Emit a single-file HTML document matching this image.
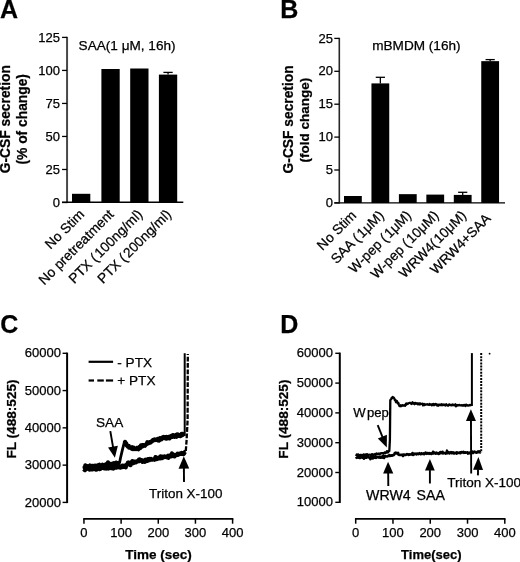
<!DOCTYPE html>
<html><head><meta charset="utf-8"><style>
html,body{margin:0;padding:0;background:#fff;}
svg{display:block;font-family:"Liberation Sans", sans-serif;}
text{stroke:#000;stroke-width:0.25px;}
</style></head><body>
<svg width="520" height="562" viewBox="0 0 520 562">
<defs><filter id="bl" x="0" y="0" width="1" height="1"><feGaussianBlur stdDeviation="0.35"/></filter></defs>
<rect width="520" height="562" fill="#fff"/>
<g filter="url(#bl)">
<rect width="520" height="562" fill="#fff"/>
<text x="0.0" y="17.6" font-size="25" font-weight="bold" text-anchor="start" >A</text>
<line x1="67.05" y1="36.8" x2="67.05" y2="203.1" stroke="#000" stroke-width="2.0" stroke-opacity="0.72"/>
<line x1="62.05" y1="202.5" x2="67.05" y2="202.5" stroke="#000" stroke-width="1.3" />
<text x="60" y="206.6" font-size="13" font-weight="normal" text-anchor="end" >0</text>
<line x1="62.05" y1="169.48000000000002" x2="67.05" y2="169.48000000000002" stroke="#000" stroke-width="1.3" />
<text x="60" y="173.58" font-size="13" font-weight="normal" text-anchor="end" >25</text>
<line x1="62.05" y1="136.46" x2="67.05" y2="136.46" stroke="#000" stroke-width="1.3" />
<text x="60" y="140.56" font-size="13" font-weight="normal" text-anchor="end" >50</text>
<line x1="62.05" y1="103.44000000000001" x2="67.05" y2="103.44000000000001" stroke="#000" stroke-width="1.3" />
<text x="60" y="107.54" font-size="13" font-weight="normal" text-anchor="end" >75</text>
<line x1="62.05" y1="70.42000000000002" x2="67.05" y2="70.42000000000002" stroke="#000" stroke-width="1.3" />
<text x="60" y="74.52000000000001" font-size="13" font-weight="normal" text-anchor="end" >100</text>
<line x1="62.05" y1="37.400000000000006" x2="67.05" y2="37.400000000000006" stroke="#000" stroke-width="1.3" />
<text x="60" y="41.50000000000001" font-size="13" font-weight="normal" text-anchor="end" >125</text>
<line x1="62" y1="202.3" x2="183.3" y2="202.3" stroke="#000" stroke-width="1.4" />
<rect x="72" y="193.8" width="18.3" height="8.5" fill="#000"/>
<rect x="101.4" y="69.0" width="18.3" height="133.3" fill="#000"/>
<rect x="130.2" y="68.5" width="18.3" height="133.8" fill="#000"/>
<rect x="158.9" y="74.6" width="18.3" height="127.70000000000002" fill="#000"/>
<line x1="168.05" y1="72.4" x2="168.05" y2="74.6" stroke="#000" stroke-width="1.3" />
<line x1="163.4" y1="72.4" x2="172.70000000000002" y2="72.4" stroke="#000" stroke-width="1.3" />
<text x="78.6" y="49.5" font-size="13.6" font-weight="normal" text-anchor="start" >SAA(1 μM, 16h)</text>
<text transform="translate(85.15,215.2) rotate(-45)" font-size="13.75" font-weight="normal" text-anchor="end" >No Stim</text>
<text transform="translate(114.55000000000001,215.2) rotate(-45)" font-size="13.75" font-weight="normal" text-anchor="end" >No pretreatment</text>
<text transform="translate(143.35,215.2) rotate(-45)" font-size="13.75" font-weight="normal" text-anchor="end" >PTX (<tspan dx="1.5">100ng/ml)</tspan></text>
<text transform="translate(172.05,215.2) rotate(-45)" font-size="13.75" font-weight="normal" text-anchor="end" >PTX (<tspan dx="1.5">200ng/ml)</tspan></text>
<text transform="translate(10.1,119.2) rotate(-90)" font-size="13.8" font-weight="bold" text-anchor="middle" >G-CSF secretion</text>
<text transform="translate(26.7,119.3) rotate(-90)" font-size="13.8" font-weight="bold" text-anchor="middle" >(% of change)</text>
<text x="280.3" y="17.6" font-size="25" font-weight="bold" text-anchor="start" >B</text>
<line x1="339.3" y1="37.8" x2="339.3" y2="203.5" stroke="#000" stroke-width="1.6" stroke-opacity="0.85"/>
<line x1="334.3" y1="202.9" x2="339.3" y2="202.9" stroke="#000" stroke-width="1.3" />
<text x="333" y="207.0" font-size="13" font-weight="normal" text-anchor="end" >0</text>
<line x1="334.3" y1="170.0" x2="339.3" y2="170.0" stroke="#000" stroke-width="1.3" />
<text x="333" y="174.1" font-size="13" font-weight="normal" text-anchor="end" >5</text>
<line x1="334.3" y1="137.10000000000002" x2="339.3" y2="137.10000000000002" stroke="#000" stroke-width="1.3" />
<text x="333" y="141.20000000000002" font-size="13" font-weight="normal" text-anchor="end" >10</text>
<line x1="334.3" y1="104.2" x2="339.3" y2="104.2" stroke="#000" stroke-width="1.3" />
<text x="333" y="108.3" font-size="13" font-weight="normal" text-anchor="end" >15</text>
<line x1="334.3" y1="71.30000000000001" x2="339.3" y2="71.30000000000001" stroke="#000" stroke-width="1.3" />
<text x="333" y="75.4" font-size="13" font-weight="normal" text-anchor="end" >20</text>
<line x1="334.3" y1="38.400000000000006" x2="339.3" y2="38.400000000000006" stroke="#000" stroke-width="1.3" />
<text x="333" y="42.50000000000001" font-size="13" font-weight="normal" text-anchor="end" >25</text>
<line x1="334.3" y1="202.9" x2="505" y2="202.9" stroke="#000" stroke-width="1.4" />
<rect x="344" y="196.0" width="17.8" height="6.900000000000006" fill="#000"/>
<rect x="371.45" y="83.4" width="17.8" height="119.5" fill="#000"/>
<line x1="380.34999999999997" y1="77.3" x2="380.34999999999997" y2="83.4" stroke="#000" stroke-width="1.3" />
<line x1="375.75" y1="77.3" x2="384.95" y2="77.3" stroke="#000" stroke-width="1.3" />
<rect x="398.9" y="194.15" width="17.8" height="8.75" fill="#000"/>
<rect x="426.35" y="194.6" width="17.8" height="8.300000000000011" fill="#000"/>
<rect x="453.8" y="194.9" width="17.8" height="8.0" fill="#000"/>
<line x1="462.7" y1="192.3" x2="462.7" y2="194.9" stroke="#000" stroke-width="1.3" />
<line x1="458.1" y1="192.3" x2="467.3" y2="192.3" stroke="#000" stroke-width="1.3" />
<rect x="481.25" y="61.15" width="17.8" height="141.75" fill="#000"/>
<line x1="490.15" y1="59.6" x2="490.15" y2="61.15" stroke="#000" stroke-width="1.3" />
<line x1="485.55" y1="59.6" x2="494.75" y2="59.6" stroke="#000" stroke-width="1.3" />
<text x="372.2" y="49.9" font-size="13.6" font-weight="normal" text-anchor="start" >mBMDM (16h)</text>
<text transform="translate(357.2,216.3) rotate(-45)" font-size="13.75" font-weight="normal" text-anchor="end" >No Stim</text>
<text transform="translate(384.65,216.3) rotate(-45)" font-size="13.75" font-weight="normal" text-anchor="end" >SAA (<tspan dx="1.5">1μM)</tspan></text>
<text transform="translate(412.09999999999997,216.3) rotate(-45)" font-size="13.75" font-weight="normal" text-anchor="end" >W-pep (<tspan dx="1.5">1μM)</tspan></text>
<text transform="translate(439.55,216.3) rotate(-45)" font-size="13.75" font-weight="normal" text-anchor="end" >W-pep (<tspan dx="1.5">10μM)</tspan></text>
<text transform="translate(467.0,216.3) rotate(-45)" font-size="13.75" font-weight="normal" text-anchor="end" >WRW4(<tspan dx="1.2">10μM)</tspan></text>
<text transform="translate(491.45,219.3) rotate(-45)" font-size="13.75" font-weight="normal" text-anchor="end" >WRW4+SAA</text>
<text transform="translate(293.0,119.4) rotate(-90)" font-size="13.8" font-weight="bold" text-anchor="middle" >G-CSF secretion</text>
<text transform="translate(308.9,120.0) rotate(-90)" font-size="13.5" font-weight="bold" text-anchor="middle" >(fold change)</text>
<text x="0.3" y="332.6" font-size="25" font-weight="bold" text-anchor="start" >C</text>
<line x1="67.1" y1="352.6" x2="67.1" y2="503.09999999999997" stroke="#000" stroke-width="2.0" />
<line x1="62.599999999999994" y1="502.4" x2="67.1" y2="502.4" stroke="#000" stroke-width="1.4" />
<text x="61" y="506.5" font-size="13" font-weight="normal" text-anchor="end" >20000</text>
<line x1="62.599999999999994" y1="465.125" x2="67.1" y2="465.125" stroke="#000" stroke-width="1.4" />
<text x="61" y="469.225" font-size="13" font-weight="normal" text-anchor="end" >30000</text>
<line x1="62.599999999999994" y1="427.85" x2="67.1" y2="427.85" stroke="#000" stroke-width="1.4" />
<text x="61" y="431.95000000000005" font-size="13" font-weight="normal" text-anchor="end" >40000</text>
<line x1="62.599999999999994" y1="390.575" x2="67.1" y2="390.575" stroke="#000" stroke-width="1.4" />
<text x="61" y="394.675" font-size="13" font-weight="normal" text-anchor="end" >50000</text>
<line x1="62.599999999999994" y1="353.3" x2="67.1" y2="353.3" stroke="#000" stroke-width="1.4" />
<text x="61" y="357.40000000000003" font-size="13" font-weight="normal" text-anchor="end" >60000</text>
<line x1="83.2" y1="518.9" x2="233.35" y2="518.9" stroke="#000" stroke-width="1.8" />
<line x1="83.95" y1="518.9" x2="83.95" y2="523.6999999999999" stroke="#000" stroke-width="1.5" />
<text x="83.95" y="536.6" font-size="13" font-weight="normal" text-anchor="middle" >0</text>
<line x1="121.1125" y1="518.9" x2="121.1125" y2="523.6999999999999" stroke="#000" stroke-width="1.5" />
<text x="121.1125" y="536.6" font-size="13" font-weight="normal" text-anchor="middle" >100</text>
<line x1="158.27499999999998" y1="518.9" x2="158.27499999999998" y2="523.6999999999999" stroke="#000" stroke-width="1.5" />
<text x="158.27499999999998" y="536.6" font-size="13" font-weight="normal" text-anchor="middle" >200</text>
<line x1="195.4375" y1="518.9" x2="195.4375" y2="523.6999999999999" stroke="#000" stroke-width="1.5" />
<text x="195.4375" y="536.6" font-size="13" font-weight="normal" text-anchor="middle" >300</text>
<line x1="232.59999999999997" y1="518.9" x2="232.59999999999997" y2="523.6999999999999" stroke="#000" stroke-width="1.5" />
<text x="232.59999999999997" y="536.6" font-size="13" font-weight="normal" text-anchor="middle" >400</text>
<text x="158.4" y="558.6" font-size="13.5" font-weight="bold" text-anchor="middle" >Time (sec)</text>
<text transform="translate(16.2,419) rotate(-90)" font-size="13.6" font-weight="bold" text-anchor="middle" >FL (488:525)</text>
<line x1="88.6" y1="361.8" x2="113.1" y2="361.8" stroke="#000" stroke-width="2.2" />
<text x="117.3" y="366.7" font-size="13.6" font-weight="normal" text-anchor="start" >- PTX</text>
<line x1="88.6" y1="380.5" x2="94.0" y2="380.5" stroke="#000" stroke-width="2.2" />
<line x1="97.3" y1="380.5" x2="103.8" y2="380.5" stroke="#000" stroke-width="2.2" />
<line x1="105.9" y1="380.5" x2="113.1" y2="380.5" stroke="#000" stroke-width="2.2" />
<text x="117.3" y="384.9" font-size="13.6" font-weight="normal" text-anchor="start" >+ PTX</text>
<text x="96.0" y="426.8" font-size="13.6" font-weight="normal" text-anchor="start" >SAA</text>
<text x="149.0" y="497.6" font-size="13.45" font-weight="normal" text-anchor="start" >Triton X-100</text>
<polyline points="83.80,469.05 84.31,469.67 84.82,470.09 85.33,468.81 85.83,469.55 86.34,468.90 86.85,468.70 87.36,468.64 87.87,467.97 88.38,468.72 88.88,468.87 89.39,469.50 89.90,468.58 90.41,467.67 90.92,467.99 91.42,469.36 91.93,468.91 92.44,468.54 92.95,469.27 93.46,468.56 93.97,468.12 94.47,468.63 94.98,467.61 95.49,468.02 96.00,469.65 96.50,467.24 97.00,469.44 97.50,467.40 98.00,468.37 98.50,468.05 99.00,468.34 99.50,468.54 100.00,469.15 100.50,468.79 101.00,467.98 101.50,467.75 102.00,467.56 102.50,467.76 103.00,466.59 103.50,466.42 104.00,467.90 104.50,468.39 105.00,467.66 105.50,468.34 106.00,467.07 106.50,468.61 107.00,467.69 107.50,467.52 108.00,467.62 108.50,468.46 109.00,467.25 109.50,467.77 110.00,467.96 110.50,465.96 111.00,467.25 111.50,467.29 112.00,466.66 112.50,468.33 113.00,466.57 113.50,468.56 114.00,466.49 114.50,467.35 115.00,466.90 115.50,467.54 116.00,465.02 116.50,467.66 117.00,467.13 117.50,466.62 118.00,466.92 118.50,466.76 119.00,467.30 119.50,466.49 120.00,466.59 120.50,467.68 121.00,467.04 121.50,467.19 122.00,467.20 122.50,465.77 123.00,466.94 123.50,465.85 124.00,466.81 124.44,466.59 124.88,465.69 125.32,466.25 125.76,467.30 126.20,465.15 126.62,464.95 127.05,464.51 127.47,464.31 127.90,462.59 128.32,464.38 128.75,462.52 129.17,463.03 129.60,462.85 130.13,462.96 130.65,465.20 131.18,462.62 131.71,462.71 132.24,461.09 132.76,462.77 133.29,461.98 133.82,462.99 134.35,461.58 134.87,461.99 135.40,462.06 135.91,462.37 136.42,461.45 136.93,461.27 137.44,461.66 137.96,461.29 138.47,460.52 138.98,459.63 139.49,461.06 140.00,459.40 140.50,460.43 141.00,460.71 141.50,460.28 142.00,460.89 142.50,461.93 143.00,460.60 143.50,461.02 144.00,460.54 144.50,460.21 145.00,461.77 145.50,459.68 146.00,459.93 146.50,460.04 147.00,459.85 147.50,460.94 148.00,459.06 148.50,460.00 149.00,459.43 149.50,460.10 150.00,458.99 150.50,459.24 151.00,458.85 151.50,459.53 152.00,459.49 152.50,459.70 153.00,459.48 153.50,459.41 154.00,459.41 154.50,459.71 155.00,458.52 155.50,457.06 156.00,458.49 156.50,459.02 157.00,458.64 157.50,458.79 158.00,458.12 158.50,457.67 159.00,457.63 159.50,457.71 160.00,458.31 160.50,456.40 161.00,457.76 161.50,458.09 162.00,458.23 162.50,456.77 163.00,457.21 163.50,457.31 164.00,457.24 164.50,456.33 165.00,456.74 165.50,456.68 166.00,457.00 166.50,456.65 167.00,457.32 167.50,456.24 168.00,455.77 168.50,457.86 169.00,456.54 169.50,455.71 170.00,455.83 170.50,455.18 171.00,456.26 171.50,454.72 172.00,453.41 172.50,454.88 173.00,456.04 173.50,455.49 174.00,455.76 174.50,456.32 175.00,454.92 175.50,455.06 176.00,455.30 176.50,455.17 177.00,454.45 177.50,453.79 178.00,454.86 178.50,454.55 179.00,453.81 179.50,454.05 180.00,453.89 180.50,453.45 181.00,453.73 181.50,453.04 182.00,453.89 182.50,453.19 183.00,452.97 183.52,454.03 184.04,453.47 184.56,452.50 185.08,451.78 185.60,452.00" fill="none" stroke="#000" stroke-width="4.2" stroke-linejoin="round" stroke-linecap="butt" />
<polyline points="83.80,465.95 84.31,465.94 84.82,468.11 85.33,465.28 85.83,466.80 86.34,466.58 86.85,466.26 87.36,466.60 87.87,466.11 88.38,466.57 88.88,466.37 89.39,466.11 89.90,465.52 90.41,467.36 90.92,466.49 91.42,466.64 91.93,465.95 92.44,465.93 92.95,467.88 93.46,466.01 93.97,466.53 94.47,467.39 94.98,465.76 95.49,466.40 96.00,465.66 96.50,466.00 97.00,466.37 97.50,465.66 98.00,465.29 98.50,465.96 99.00,465.44 99.50,464.84 100.00,465.55 100.50,466.48 101.00,465.73 101.50,465.08 102.00,465.38 102.50,464.70 103.00,465.53 103.50,465.05 104.00,465.30 104.50,465.33 105.00,464.74 105.50,464.43 106.00,464.71 106.50,464.27 107.00,465.33 107.50,466.66 108.00,462.35 108.50,464.66 109.00,464.85 109.50,465.88 110.00,464.77 110.50,463.92 111.00,464.74 111.50,464.32 112.00,463.78 112.50,463.70 113.00,463.66 113.50,463.30 114.00,463.88 114.50,463.41 115.00,464.04 115.50,464.56 116.00,462.64 116.54,463.26 117.09,464.06 117.63,463.46 118.17,463.47 118.71,463.04 119.26,463.09 119.80,462.80" fill="none" stroke="#000" stroke-width="4.2" stroke-linejoin="round" stroke-linecap="butt" />
<polyline points="119.4,463.6 120.5,458 122.6,449 124.2,442.8 125.0,442.3" fill="none" stroke="#000" stroke-width="2.8" stroke-linejoin="round" stroke-linecap="butt" />
<polyline points="124.60,442.87 125.10,441.82 125.60,443.81 125.88,443.50 126.16,443.34 126.44,445.17 126.72,444.93 127.00,444.94 127.43,446.03 127.87,446.72 128.30,446.63 128.73,445.84 129.17,447.74 129.60,447.75 130.09,447.65 130.58,447.69 131.07,448.34 131.56,447.56 132.05,447.11 132.55,449.06 133.04,447.69 133.53,447.69 134.02,449.02 134.51,448.75 135.00,448.60 135.50,448.53 136.00,449.12 136.50,448.92 137.00,447.94 137.50,448.13 138.00,447.93 138.50,449.22 139.00,447.32 139.50,446.87 140.00,447.20 140.45,447.98 140.91,445.32 141.36,445.63 141.82,446.58 142.27,446.06 142.73,445.15 143.18,446.15 143.64,445.19 144.09,445.59 144.55,445.45 145.00,445.71 145.45,444.81 145.91,444.46 146.36,444.37 146.82,443.70 147.27,442.27 147.73,443.42 148.18,442.62 148.64,443.21 149.09,442.80 149.55,442.06 150.00,442.25 150.45,442.49 150.91,441.87 151.36,441.39 151.82,441.53 152.27,441.03 152.73,440.11 153.18,439.90 153.64,439.92 154.09,440.10 154.55,439.49 155.00,440.01 155.50,439.86 156.00,439.83 156.50,439.39 157.00,439.45 157.50,440.16 158.00,439.02 158.50,439.88 159.00,440.56 159.50,439.46 160.00,438.24 160.50,438.68 161.00,438.24 161.50,439.28 162.00,437.54 162.50,438.13 163.00,437.63 163.50,436.90 164.00,438.01 164.50,437.48 165.00,437.21 165.50,437.04 166.00,438.53 166.50,436.92 167.00,438.53 167.50,437.28 168.00,437.03 168.50,436.77 169.00,436.81 169.50,438.41 170.00,437.26 170.50,436.48 171.00,436.08 171.50,437.01 172.00,436.88 172.50,436.55 173.00,435.17 173.50,436.17 174.00,435.49 174.50,436.88 175.00,435.72 175.50,435.60 176.00,435.01 176.50,436.79 177.00,435.76 177.50,434.48 178.00,435.06 178.50,435.70 179.00,434.95 179.50,435.78 180.00,435.98 180.50,436.14 181.00,435.41 181.50,433.89 182.00,435.35 182.50,433.83 183.00,434.40 183.65,434.57 184.30,434.60" fill="none" stroke="#000" stroke-width="4.2" stroke-linejoin="round" stroke-linecap="butt" />
<line x1="184.7" y1="436" x2="184.7" y2="353.2" stroke="#000" stroke-width="2.0" />
<polyline points="185.8,451 186.6,440 187.6,420 187.8,354" fill="none" stroke="#000" stroke-width="2.3" stroke-dasharray="4.8 1.6"/>
<line x1="110.3" y1="431.2" x2="113.05290457248023" y2="447.0591241675492" stroke="#000" stroke-width="1.9" />
<polygon points="114.9,457.7 108.04,447.42 117.89,445.71" fill="#000"/>
<line x1="184.0" y1="482" x2="183.89182601327428" y2="468.09964270574693" stroke="#000" stroke-width="1.9" />
<polygon points="183.8,456.3 189.25,468.56 178.55,468.64" fill="#000"/>
<text x="280.3" y="332.6" font-size="25" font-weight="bold" text-anchor="start" >D</text>
<line x1="339.8" y1="352.6" x2="339.8" y2="503.0" stroke="#000" stroke-width="2.0" />
<line x1="335.3" y1="502.3" x2="339.8" y2="502.3" stroke="#000" stroke-width="1.4" />
<text x="333" y="506.40000000000003" font-size="13" font-weight="normal" text-anchor="end" >10000</text>
<line x1="335.3" y1="472.5" x2="339.8" y2="472.5" stroke="#000" stroke-width="1.4" />
<text x="333" y="476.6" font-size="13" font-weight="normal" text-anchor="end" >20000</text>
<line x1="335.3" y1="442.7" x2="339.8" y2="442.7" stroke="#000" stroke-width="1.4" />
<text x="333" y="446.8" font-size="13" font-weight="normal" text-anchor="end" >30000</text>
<line x1="335.3" y1="412.9" x2="339.8" y2="412.9" stroke="#000" stroke-width="1.4" />
<text x="333" y="417.0" font-size="13" font-weight="normal" text-anchor="end" >40000</text>
<line x1="335.3" y1="383.1" x2="339.8" y2="383.1" stroke="#000" stroke-width="1.4" />
<text x="333" y="387.20000000000005" font-size="13" font-weight="normal" text-anchor="end" >50000</text>
<line x1="335.3" y1="353.3" x2="339.8" y2="353.3" stroke="#000" stroke-width="1.4" />
<text x="333" y="357.40000000000003" font-size="13" font-weight="normal" text-anchor="end" >60000</text>
<line x1="354.95" y1="518.9" x2="505.55" y2="518.9" stroke="#000" stroke-width="1.8" />
<line x1="355.7" y1="518.9" x2="355.7" y2="523.6999999999999" stroke="#000" stroke-width="1.5" />
<text x="355.7" y="536.6" font-size="13" font-weight="normal" text-anchor="middle" >0</text>
<line x1="392.975" y1="518.9" x2="392.975" y2="523.6999999999999" stroke="#000" stroke-width="1.5" />
<text x="392.975" y="536.6" font-size="13" font-weight="normal" text-anchor="middle" >100</text>
<line x1="430.25" y1="518.9" x2="430.25" y2="523.6999999999999" stroke="#000" stroke-width="1.5" />
<text x="430.25" y="536.6" font-size="13" font-weight="normal" text-anchor="middle" >200</text>
<line x1="467.525" y1="518.9" x2="467.525" y2="523.6999999999999" stroke="#000" stroke-width="1.5" />
<text x="467.525" y="536.6" font-size="13" font-weight="normal" text-anchor="middle" >300</text>
<line x1="504.8" y1="518.9" x2="504.8" y2="523.6999999999999" stroke="#000" stroke-width="1.5" />
<text x="504.8" y="536.6" font-size="13" font-weight="normal" text-anchor="middle" >400</text>
<text x="431.3" y="558.5" font-size="13" font-weight="bold" text-anchor="middle" >Time(sec)</text>
<text transform="translate(287.7,419.1) rotate(-90)" font-size="13.6" font-weight="bold" text-anchor="middle" >FL (488:525)</text>
<polyline points="355.80,456.88 356.31,457.40 356.81,457.83 357.32,457.32 357.83,457.51 358.34,457.09 358.84,457.75 359.35,457.16 359.86,457.91 360.36,457.97 360.87,457.00 361.38,456.56 361.89,457.39 362.39,457.61 362.90,457.44 363.41,456.32 363.91,458.73 364.42,457.49 364.93,457.20 365.44,457.31 365.94,457.76 366.45,457.69 366.96,456.76 367.46,457.11 367.97,456.71 368.48,457.30 368.99,457.57 369.49,457.42 370.00,457.95 370.50,459.12 371.00,457.08 371.50,457.11 372.00,457.49 372.50,457.25 373.00,458.42 373.50,457.85 374.00,456.59 374.50,456.94 375.00,457.52 375.50,456.90 376.00,457.88 376.50,456.93 377.00,457.38 377.50,457.15 378.00,457.29 378.50,456.78 379.00,457.53 379.50,457.26 380.00,456.66 380.50,457.73 381.00,456.96 381.50,456.91 382.00,457.61 382.50,456.89 383.00,455.87 383.50,456.17 384.00,458.03 384.50,457.18 385.00,456.10 385.50,456.12 386.00,456.52 386.50,456.53 387.00,456.44 387.50,456.22 388.00,456.29 388.50,455.68 389.00,455.83 389.50,455.14 390.00,455.92 390.50,455.78 391.00,455.47 391.50,455.36 392.00,455.68 392.50,455.32 393.00,454.99 393.50,455.28 394.00,454.94 394.37,454.31 394.73,453.14 395.10,453.42 395.47,452.83 395.83,452.65 396.20,452.86 396.53,453.11 396.86,452.97 397.19,453.34 397.51,454.08 397.84,454.00 398.17,452.95 398.50,454.35 399.00,454.83 399.50,455.03 400.00,454.98 400.50,455.03 401.00,454.75 401.50,454.80 402.00,454.80 402.50,454.70 403.00,456.03 403.50,454.50 404.00,454.48 404.50,454.90 405.00,454.65 405.50,454.79 406.00,454.97 406.50,454.45 407.00,454.06 407.50,454.39 408.00,454.40 408.50,454.94 409.00,454.45 409.50,454.30 410.00,454.62 410.50,454.39 411.00,454.27 411.50,454.37 412.00,454.56 412.50,452.99 413.00,454.96 413.50,453.70 414.00,454.39 414.50,454.25 415.00,453.59 415.50,454.00 416.00,454.05 416.50,454.29 417.00,453.48 417.50,453.70 418.00,453.76 418.50,454.11 419.00,453.68 419.50,453.18 420.00,453.54 420.50,454.20 421.00,454.30 421.50,453.25 422.00,453.67 422.50,453.78 423.00,453.95 423.50,453.36 424.00,454.22 424.50,454.04 425.00,453.66 425.50,452.73 426.00,453.37 426.50,453.04 427.00,453.76 427.50,453.12 428.00,453.06 428.50,453.44 429.00,453.94 429.50,453.12 430.00,453.52 430.50,453.63 431.00,453.26 431.50,453.88 432.00,453.52 432.50,453.27 433.00,451.85 433.50,453.45 434.00,452.92 434.50,452.55 435.00,452.87 435.50,453.67 436.00,453.20 436.50,452.65 437.00,453.43 437.50,453.45 438.00,453.02 438.50,453.99 439.00,453.80 439.50,453.33 440.00,452.22 440.50,452.14 441.00,453.17 441.50,452.94 442.00,453.11 442.50,451.79 443.00,453.48 443.50,452.73 444.00,453.02 444.50,453.08 445.00,453.20 445.50,453.74 446.00,452.89 446.50,453.04 447.00,450.68 447.50,453.24 448.00,452.75 448.50,452.28 449.00,452.34 449.50,453.40 450.00,452.94 450.50,452.77 451.00,452.22 451.50,453.24 452.00,452.46 452.50,452.49 453.00,452.30 453.50,453.39 454.00,453.57 454.50,452.82 455.00,453.01 455.50,452.73 456.00,452.74 456.50,453.63 457.00,452.36 457.50,453.26 458.00,452.68 458.50,452.74 459.00,452.86 459.50,452.79 460.00,452.40 460.50,453.20 461.00,452.55 461.50,452.06 462.00,452.25 462.50,452.49 463.00,452.22 463.50,451.90 464.00,452.81 464.50,452.63 465.00,452.34 465.50,452.78 466.00,452.67 466.50,452.44 467.00,452.50 467.50,452.33 468.00,453.63 468.50,453.04 469.00,452.84 469.50,453.15 470.00,452.47 470.50,452.57 471.00,453.66 471.50,452.09 472.00,452.54 472.50,451.56 473.00,452.94 473.50,452.46 474.00,452.08 474.50,451.53 475.00,452.01 475.50,452.32 476.00,452.52 476.50,452.70 477.00,452.52 477.50,451.82 478.00,451.41 478.52,452.24 479.04,452.05 479.56,451.43 480.08,452.44 480.60,452.20" fill="none" stroke="#000" stroke-width="2.6" stroke-linejoin="round" stroke-linecap="butt" />
<polyline points="355.80,454.51 356.31,455.14 356.81,454.45 357.32,454.95 357.83,454.49 358.34,454.45 358.84,455.57 359.35,455.34 359.86,455.97 360.36,454.82 360.87,454.97 361.38,454.98 361.89,455.75 362.39,455.18 362.90,455.00 363.41,454.38 363.91,454.64 364.42,456.25 364.93,454.78 365.44,454.53 365.94,455.47 366.45,455.14 366.96,454.08 367.46,454.52 367.97,455.20 368.48,454.95 368.99,454.57 369.49,454.70 370.00,454.77 370.50,454.80 371.00,456.00 371.50,455.07 372.00,454.13 372.50,454.32 373.00,454.80 373.50,454.77 374.00,454.35 374.50,454.52 375.00,453.87 375.50,454.87 376.00,454.37 376.50,453.50 377.00,453.96 377.50,454.13 378.00,453.72 378.50,453.84 379.00,453.65 379.50,454.11 380.00,453.94 380.50,453.27 381.00,453.38 381.50,453.39 382.00,453.07 382.50,453.22 383.00,453.17 383.50,453.67 384.00,453.16 384.50,452.61 385.00,452.38 385.50,453.05 386.00,452.49 386.47,452.60 386.94,451.13 387.41,451.40 387.89,452.51 388.36,451.21 388.83,451.48 389.30,451.00 389.33,450.50 389.35,450.00 389.38,449.50 389.41,449.00 389.44,448.50 389.46,448.00 389.49,447.50 389.52,447.00 389.55,446.50 389.57,446.00 389.60,445.50 389.63,445.00 389.65,444.50 389.68,444.00 389.71,443.50 389.74,443.00 389.76,442.50 389.79,442.00 389.82,441.50 389.85,441.00 389.87,440.50 389.90,440.00 389.90,439.50 389.91,439.00 389.91,438.50 389.92,438.00 389.92,437.50 389.93,437.00 389.94,436.50 389.94,436.00 389.94,435.50 389.95,435.00 389.95,434.50 389.96,434.00 389.96,433.50 389.97,433.00 389.97,432.50 389.98,432.00 389.98,431.50 389.99,431.00 390.00,430.50 390.00,430.00 390.00,429.50 390.01,429.00 390.01,428.50 390.02,428.00 390.02,427.50 390.03,427.00 390.03,426.50 390.04,426.00 390.05,425.50 390.05,425.00 390.06,424.50 390.06,424.00 390.06,423.50 390.07,423.00 390.07,422.50 390.08,422.00 390.08,421.50 390.09,421.00 390.09,420.50 390.10,420.00 390.11,419.50 390.11,419.00 390.12,418.50 390.12,418.00 390.12,417.50 390.13,417.00 390.13,416.50 390.14,416.00 390.14,415.50 390.15,415.00 390.15,414.50 390.16,414.00 390.17,413.50 390.17,413.00 390.18,412.50 390.18,412.00 390.19,411.50 390.19,411.00 390.19,410.50 390.20,410.00 390.20,409.50 390.21,409.00 390.22,408.50 390.22,408.00 390.23,407.50 390.23,407.00 390.24,406.50 390.24,406.00 390.25,405.50 390.25,405.00 390.25,404.50 390.26,404.00 390.26,403.50 390.27,403.00 390.28,402.50 390.28,402.00 390.29,401.50 390.29,401.00 390.30,400.50 390.30,400.09 390.70,399.68 391.10,399.12 391.50,398.45 391.90,397.59 392.30,398.05 392.70,397.02 393.10,397.33 393.39,397.33 393.68,397.56 393.97,398.26 394.26,398.40 394.55,398.99 394.84,400.03 395.13,400.49 395.42,400.00 395.71,400.61 396.00,402.21 396.35,400.86 396.69,401.00 397.04,401.25 397.38,402.13 397.73,403.46 398.08,403.53 398.42,402.92 398.77,404.34 399.12,405.28 399.46,406.00 399.81,405.34 400.15,405.23 400.50,406.22 401.00,405.84 401.50,405.97 402.00,405.32 402.50,405.09 403.00,405.53 403.50,405.57 404.00,405.38 404.50,405.24 405.00,405.83 405.50,405.08 406.00,403.58 406.50,404.48 407.00,403.57 407.50,403.93 408.00,403.59 408.50,403.43 409.00,403.05 409.50,402.98 410.00,402.90 410.50,402.83 411.00,403.53 411.50,403.96 412.00,403.70 412.50,402.30 413.00,402.89 413.50,403.36 414.00,403.76 414.50,404.27 415.00,402.91 415.50,403.15 416.00,403.53 416.50,403.27 417.00,403.21 417.50,404.25 418.00,404.44 418.50,403.63 419.00,403.31 419.50,403.35 420.00,404.53 420.50,403.56 421.00,403.94 421.50,403.92 422.00,403.78 422.50,403.72 423.00,405.35 423.50,404.17 424.01,403.94 424.51,405.13 425.02,404.73 425.52,404.59 426.03,404.30 426.53,404.42 427.04,404.50 427.54,404.21 428.05,404.61 428.55,404.66 429.06,404.83 429.56,404.00 430.07,404.70 430.57,404.50 431.08,404.41 431.58,405.22 432.09,404.90 432.59,404.21 433.10,405.13 433.61,403.96 434.11,405.16 434.62,404.61 435.12,404.26 435.63,403.83 436.13,404.18 436.64,405.20 437.14,404.74 437.65,404.68 438.15,405.71 438.66,404.61 439.16,405.17 439.67,405.19 440.17,404.56 440.68,404.98 441.18,405.13 441.69,404.21 442.19,405.31 442.70,405.02 443.21,404.53 443.72,405.01 444.22,404.56 444.73,404.57 445.24,405.58 445.75,405.11 446.25,404.25 446.76,404.84 447.27,405.14 447.78,405.53 448.28,405.53 448.79,404.76 449.30,404.38 449.81,404.54 450.31,405.12 450.82,405.23 451.33,405.40 451.84,405.28 452.34,404.47 452.85,404.91 453.36,405.13 453.87,404.91 454.37,405.25 454.88,404.75 455.39,404.29 455.90,406.30 456.40,405.01 456.91,405.12 457.42,405.49 457.93,404.86 458.43,405.23 458.94,405.33 459.45,404.94 459.96,405.03 460.46,405.46 460.97,405.36 461.48,405.24 461.99,405.52 462.49,405.27 463.00,405.54 463.51,405.64 464.02,404.90 464.52,405.09 465.03,405.32 465.54,405.97 466.05,404.66 466.55,404.86 467.06,405.00 467.57,405.68 468.08,405.63 468.58,405.43 469.09,405.46 469.60,404.97 470.18,405.26 470.75,405.20 471.32,404.73 471.90,405.00" fill="none" stroke="#000" stroke-width="2.3" stroke-linejoin="round" stroke-linecap="butt" />
<line x1="471.9" y1="406" x2="471.9" y2="353.1" stroke="#000" stroke-width="2.0" />
<line x1="481.2" y1="353.1" x2="481.2" y2="452.5" stroke="#000" stroke-width="2.0" stroke-dasharray="2.0 1.1"/>
<circle cx="489.6" cy="353.7" r="0.9" fill="#000"/>
<text x="353.2" y="416.5" font-size="13.1" font-weight="normal" text-anchor="start" >W<tspan dx="1.5">pep</tspan></text>
<line x1="377.7" y1="425.2" x2="382.55204252513715" y2="437.0368509953896" stroke="#000" stroke-width="1.9" />
<polygon points="386.8,447.4 377.83,438.43 386.90,434.72" fill="#000"/>
<line x1="388.3" y1="486" x2="388.1930009653207" y2="472.9996172864593" stroke="#000" stroke-width="1.9" />
<polygon points="388.1,461.7 393.30,473.46 383.10,473.54" fill="#000"/>
<line x1="429.9" y1="483.5" x2="429.9" y2="470.09999999999997" stroke="#000" stroke-width="1.9" />
<polygon points="429.9,458.9 434.80,470.60 425.00,470.60" fill="#000"/>
<line x1="471.2" y1="473.5" x2="470.9528031618168" y2="420.5998766288001" stroke="#000" stroke-width="1.9" />
<polygon points="470.9,409.3 475.96,421.08 465.96,421.12" fill="#000"/>
<line x1="477.9" y1="475.4" x2="478.0658842059521" y2="469.2954612209615" stroke="#000" stroke-width="1.9" />
<polygon points="478.4,457 483.05,469.93 473.05,469.66" fill="#000"/>
<text x="366.0" y="499.6" font-size="14.2" font-weight="normal" text-anchor="start" >WRW4</text>
<text x="416.6" y="499.6" font-size="14.2" font-weight="normal" text-anchor="start" >SAA</text>
<text x="447.2" y="487.2" font-size="13.5" font-weight="normal" text-anchor="start" >Triton X-100</text>
</g>
</svg></body></html>
